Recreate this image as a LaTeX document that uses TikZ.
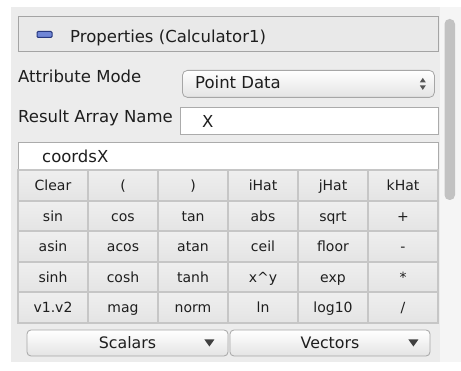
\documentclass[tikz,border=0pt]{standalone}
\usepackage{fontspec}
\setmainfont{DejaVu Sans}
\usetikzlibrary{calc}
\definecolor{panelbg}{HTML}{ECECEC}
\definecolor{trackbg}{HTML}{F5F5F5}
\definecolor{thumbc}{HTML}{C2C2C2}
\definecolor{hdrfill}{HTML}{E9E9E9}
\definecolor{hdrborder}{HTML}{A4A4A4}
\definecolor{iconblue}{HTML}{7086D6}
\definecolor{iconborder}{HTML}{27387F}
\definecolor{fieldborder}{HTML}{ABABAB}
\definecolor{gridline}{HTML}{C6C6C6}
\definecolor{celltop}{HTML}{EFEFEF}
\definecolor{cellbot}{HTML}{E4E4E4}
\definecolor{btnborder}{HTML}{A6A6A6}
\definecolor{txt}{HTML}{1E1E1E}
\tikzset{
  lbl/.style={anchor=base west, inner sep=0, text=txt, font=\fontsize{16.5}{18}\selectfont},
  field/.style={draw=fieldborder, fill=white, line width=1pt, inner sep=0, anchor=north west},
  cell/.style={draw=gridline, line width=1.6pt, top color=celltop, bottom color=cellbot,
    minimum width=70pt, minimum height=30.5pt, inner sep=0, text=txt,
    font=\fontsize{14}{16}\selectfont, text height=11pt, text depth=0pt},
  dropbtn/.style={draw=btnborder, line width=0.8pt, rounded corners=4pt, top color=white, bottom color=cellbot,
    minimum height=26pt, inner sep=0, text=txt, font=\fontsize{15.8}{18}\selectfont,
    text height=12pt, text depth=0pt},
  tri/.style={fill=txt!85},
}
\begin{document}
\begin{tikzpicture}[x=1pt,y=-1pt]
\useasboundingbox (0,0) rectangle (461,371);
\fill[white] (0,0) rectangle (461,371);
\fill[panelbg] (11,7) rectangle (440,362);
\fill[trackbg] (440,7) rectangle (461,362);
\fill[thumbc, rounded corners=5pt] (444.5,19) rectangle (455,200);

% header
\node[draw=hdrborder, fill=hdrfill, line width=1pt, minimum width=420pt, minimum height=35pt,
      anchor=north west, inner sep=0] (hdr) at (18,16) {};
\node[fill=iconblue, draw=iconborder, line width=1pt, rounded corners=1.2pt,
      minimum width=15pt, minimum height=6pt, inner sep=0] (icon) at (44.5,34.5) {};
\node[lbl] (title) at (70,43) {Properties (Calculator1)};

% attribute mode
\node[lbl] (attr) at (18,83) {Attribute Mode};
\node[draw=btnborder, line width=0.8pt, rounded corners=5pt, top color=white, bottom color=cellbot,
      minimum width=252pt, minimum height=27pt, inner sep=0, anchor=north west] (combo) at (182,70) {};
\node[lbl] (pd) at (195,89) {Point Data};
\fill[txt!75] ($(combo.east)+(-15,-1.5)$) -- ++(6,0) -- ++(-3,-4.5) -- cycle;
\fill[txt!75] ($(combo.east)+(-15,1.5)$) -- ++(6,0) -- ++(-3,4.5) -- cycle;

% result array name
\node[lbl] (ran) at (18,123) {Result Array Name};
\node[field, minimum width=258pt, minimum height=27pt] (xf) at (180,107) {};
\node[lbl] (xt) at (202,127.5) {X};

% expression field
\node[field, minimum width=420pt, minimum height=27pt] (ef) at (18,142) {};
\node[lbl] (et) at (42,163) {coordsX};

% calculator grid
\foreach \r/\labs in {0/{Clear,{(},{)},iHat,jHat,kHat},
                      1/{sin,cos,tan,abs,sqrt,+},
                      2/{asin,acos,atan,ceil,floor,-},
                      3/{sinh,cosh,tanh,x\string^y,exp,*},
                      4/{v1.v2,mag,norm,ln,log10,/}}{
  \foreach \t [count=\c from 0] in \labs {
    \node[cell] (b\r\c) at ({53+70*\c},{185.5+30.5*\r}) {\t};
  }
}

% dropdown buttons
\node[dropbtn, minimum width=201pt] (scal) at (127.5,343) {Scalars};
\node[dropbtn, minimum width=200pt] (vect) at (330,343) {Vectors};
\fill[tri] ($(scal.east)+(-24,-3.5)$) -- ++(10,0) -- ++(-5,7) -- cycle;
\fill[tri] ($(vect.east)+(-22,-3.5)$) -- ++(10,0) -- ++(-5,7) -- cycle;
\end{tikzpicture}
\end{document}
